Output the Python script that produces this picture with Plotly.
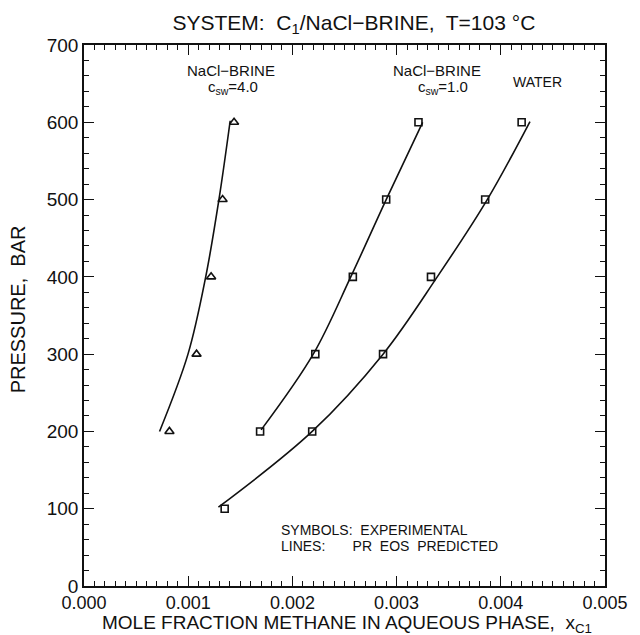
import plotly.graph_objects as go

# Experimental points: pressure (bar) and methane mole fraction in the aqueous phase
p_brine4 = [200, 300, 400, 500, 600]
x_brine4 = [0.00082, 0.00108, 0.00122, 0.00133, 0.00144]

p_brine1 = [200, 300, 400, 500, 600]
x_brine1 = [0.00169, 0.00222, 0.00258, 0.00290, 0.00321]

p_water = [100, 200, 300, 400, 500, 600]
x_water = [0.00135, 0.00219, 0.00287, 0.00333, 0.00385, 0.00420]

# PR EOS predicted curves
pl_brine4 = [200, 300, 400, 500, 602]
xl_brine4 = [0.000725, 0.000998, 0.001168, 0.001295, 0.001403]

pl_brine1 = [202, 300, 400, 500, 600]
xl_brine1 = [0.00170, 0.00220, 0.00256, 0.00290, 0.00325]

pl_water = [102, 200, 300, 400, 500, 601]
xl_water = [0.00129, 0.00219, 0.00287, 0.00339, 0.00387, 0.00428]

x_ticks = [0.000, 0.001, 0.002, 0.003, 0.004, 0.005]
x_ticklabels = ["0.000", "0.001", "0.002", "0.003", "0.004", "0.005"]
y_ticks = [0, 100, 200, 300, 400, 500, 600, 700]
x_range = [0, 0.005]
y_range = [0, 700]

FONT = "Liberation Sans"
BLACK = "#111111"

fig = go.Figure()

for xs, ps in [(xl_brine4, pl_brine4), (xl_brine1, pl_brine1), (xl_water, pl_water)]:
    fig.add_trace(go.Scatter(
        x=xs, y=ps, mode="lines",
        line=dict(color=BLACK, width=1.6, shape="spline", smoothing=1.0),
        showlegend=False, hoverinfo="skip"))

fig.add_trace(go.Scatter(
    x=x_brine4, y=p_brine4, mode="markers",
    marker=dict(symbol="triangle-up-open", size=8, color=BLACK, line=dict(width=1.6)),
    showlegend=False))
for xs, ps in [(x_brine1, p_brine1), (x_water, p_water)]:
    fig.add_trace(go.Scatter(
        x=xs, y=ps, mode="markers",
        marker=dict(symbol="square-open", size=7, color=BLACK, line=dict(width=1.6)),
        showlegend=False))

# empty trace so the top/right tick axes are drawn
fig.add_trace(go.Scatter(x=[], y=[], xaxis="x2", yaxis="y2", showlegend=False,
                         hoverinfo="skip"))

annotations = [
    dict(x=0.00141, y=667, text="NaCl\u2212BRINE", size=15),
    dict(x=0.00143, y=645, text="c<sub>sw</sub>=4.0", size=15),
    dict(x=0.00339, y=667, text="NaCl\u2212BRINE", size=15),
    dict(x=0.00345, y=645, text="c<sub>sw</sub>=1.0", size=15),
    dict(x=0.00435, y=652, text="WATER", size=14),
    dict(x=0.00187, y=73, text="SYMBOLS:  EXPERIMENTAL", size=14, xanchor="left"),
    dict(x=0.00187, y=52, text="LINES:       PR  EOS  PREDICTED", size=14, xanchor="left"),
]
for a in annotations:
    fig.add_annotation(x=a["x"], y=a["y"], text=a["text"], showarrow=False,
                       xanchor=a.get("xanchor", "center"), yanchor="middle",
                       font=dict(family=FONT, size=a["size"], color=BLACK))

# axis titles
fig.add_annotation(xref="paper", yref="paper", x=0.505, y=-0.071,
                   text="MOLE FRACTION METHANE IN AQUEOUS PHASE,  x<sub>C1</sub>",
                   showarrow=False, xanchor="center", yanchor="middle",
                   font=dict(family=FONT, size=19, color=BLACK))
fig.add_annotation(xref="paper", yref="paper", x=-0.126, y=0.512,
                   text="PRESSURE,  BAR", textangle=-90,
                   showarrow=False, xanchor="center", yanchor="middle",
                   font=dict(family=FONT, size=20, color=BLACK))

tick_common = dict(
    showgrid=False, zeroline=False, showline=True, linecolor=BLACK, linewidth=1.6,
    ticks="inside", ticklen=10, tickwidth=1.4, tickcolor=BLACK,
    tickfont=dict(family=FONT, size=19, color=BLACK),
)
x_minor = dict(ticks="inside", dtick=0.0001, ticklen=5, tickwidth=1.2, tickcolor=BLACK)
y_minor = dict(ticks="inside", dtick=20, ticklen=5, tickwidth=1.2, tickcolor=BLACK)

x_tick_style = dict(tick_common)
x_tick_style["tickfont"] = dict(family=FONT, size=18, color=BLACK)

fig.update_layout(
    width=640, height=635,
    margin=dict(l=84, r=24, t=45, b=49),
    paper_bgcolor="white", plot_bgcolor="white",
    title=dict(text="SYSTEM:  C<sub>1</sub>/NaCl\u2212BRINE,  T=103 °C",
               x=0.553, xanchor="center", y=0.965, yanchor="middle",
               font=dict(family=FONT, size=21, color=BLACK)),
    xaxis=dict(range=x_range, tickvals=x_ticks, ticktext=x_ticklabels,
               ticklabeloverflow="allow", minor=x_minor, **x_tick_style),
    yaxis=dict(range=y_range, tickvals=y_ticks, minor=y_minor, **tick_common),
    xaxis2=dict(range=x_range, tickvals=x_ticks, showticklabels=False,
                overlaying="x", side="top", anchor="y", minor=x_minor, **tick_common),
    yaxis2=dict(range=y_range, tickvals=y_ticks, showticklabels=False,
                overlaying="y", side="right", anchor="x", minor=y_minor, **tick_common),
)

fig.write_html("out.html")
